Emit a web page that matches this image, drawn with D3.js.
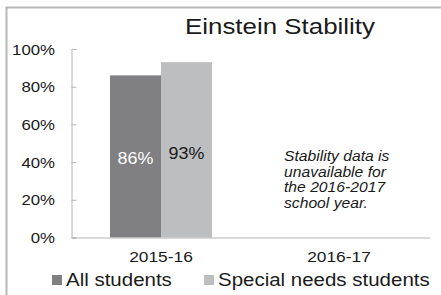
<!DOCTYPE html>
<html>
<head>
<meta charset="utf-8">
<script src="https://cdn.jsdelivr.net/npm/d3@7"></script>
<style>
  body { margin: 0; background: #fff; }
  svg { display: block; font-family: "Liberation Sans", Arial, sans-serif; }
</style>
</head>
<body>
<div id="chart"></div>
<script>
const width = 441;
const height = 295;

// data
const years = ["2015-16", "2016-17"];
const series = ["All students", "Special needs students"];
const allStudents = [86, 0];
const specialNeeds = [93, 0];
const yTicks = [0, 20, 40, 60, 80, 100];
const colors = ["#808083", "#bdbec0"];
const note = ["Stability data is", "unavailable for", "the 2016-2017", "school year."];

// the original text is drawn a little wider than the font
const stretch = 1.12;
const ink = "#1a1a1a";

const svg = d3.select("#chart")
    .append("svg")
    .attr("width", width)
    .attr("height", height);

function wideText(sel, x, y) {
    return sel.attr("transform", `translate(${x},${y}) scale(${stretch},1)`);
}

// frame of the chart area
svg.append("path")
    .attr("d", `M6.5,${height} V7.5 H${width}`)
    .attr("fill", "none")
    .attr("stroke", "#b8b8b8")
    .attr("stroke-width", 2);

svg.append("text")
    .attr("x", 280)
    .attr("y", 33.5)
    .attr("text-anchor", "middle")
    .attr("font-size", 21.5)
    .attr("textLength", 190)
    .attr("lengthAdjust", "spacingAndGlyphs")
    .attr("fill", ink)
    .text("Einstein Stability");

const y = d3.scaleLinear().domain([0, 100]).range([237.5, 49]);
const x = d3.scaleBand().domain(years).range([72, 428]);
const xInner = d3.scaleBand().domain(series).range([0, 102]);

// y axis (ticks point inward)
const yAxis = svg.append("g")
    .attr("transform", "translate(71.5,0)")
    .call(d3.axisRight(y).tickValues(yTicks).tickSize(5).tickFormat(""));
yAxis.select(".domain").attr("stroke", "#b4b4b4");
yAxis.selectAll(".tick line").attr("stroke", "#b4b4b4");

svg.append("g").selectAll("text")
    .data(yTicks)
    .join("text")
    .each(function(d) { wideText(d3.select(this), 55, y(d) + 5.5); })
    .attr("text-anchor", "end")
    .attr("font-size", 15)
    .attr("fill", ink)
    .text(d => d + "%");

// bars
const rows = years.map((yr, i) => ({ year: yr, values: [allStudents[i], specialNeeds[i]] }));

const groups = svg.append("g").selectAll("g")
    .data(rows)
    .join("g")
    .attr("transform", d => `translate(${x(d.year) + (x.bandwidth() - 102) / 2},0)`);

groups.selectAll("rect")
    .data(d => d.values.map((v, j) => ({ key: series[j], value: v, j })))
    .join("rect")
    .attr("x", d => xInner(d.key))
    .attr("width", xInner.bandwidth())
    .attr("y", d => y(d.value))
    .attr("height", d => y(0) - y(d.value))
    .attr("fill", d => colors[d.j]);

groups.filter(d => d.values[0] > 0)
    .selectAll("text")
    .data(d => d.values.map((v, j) => ({ key: series[j], value: v, j })))
    .join("text")
    .each(function(d) {
        wideText(d3.select(this), xInner(d.key) + xInner.bandwidth() / 2, d.j === 0 ? 163.5 : 158.5);
    })
    .attr("text-anchor", "middle")
    .attr("font-size", 16)
    .attr("fill", d => d.j === 0 ? "#ffffff" : ink)
    .text(d => d.value + "%");

// baseline
svg.append("line")
    .attr("x1", 71.5).attr("x2", 430)
    .attr("y1", y(0) + 0.5).attr("y2", y(0) + 0.5)
    .attr("stroke", "#b4b4b4");

// x labels
svg.append("g").selectAll("text")
    .data(years)
    .join("text")
    .each(function(d) { wideText(d3.select(this), x(d) + x.bandwidth() / 2, 262); })
    .attr("text-anchor", "middle")
    .attr("font-size", 15.5)
    .attr("fill", ink)
    .text(d => d);

// note for missing year
svg.append("g").selectAll("text")
    .data(note)
    .join("text")
    .each(function(d, i) { wideText(d3.select(this), 284, 161 + i * 15.5); })
    .attr("font-size", 14)
    .attr("font-style", "italic")
    .attr("fill", ink)
    .text(d => d);

// legend
const legendX = [52, 204];
const legend = svg.append("g").selectAll("g")
    .data(series)
    .join("g")
    .attr("transform", (d, i) => `translate(${legendX[i]},275)`);

legend.append("rect")
    .attr("width", 10)
    .attr("height", 10)
    .attr("fill", (d, i) => colors[i]);

legend.append("text")
    .each(function() { wideText(d3.select(this), 14, 10.5); })
    .attr("font-size", 18.3)
    .attr("fill", ink)
    .text(d => d);
</script>
</body>
</html>
